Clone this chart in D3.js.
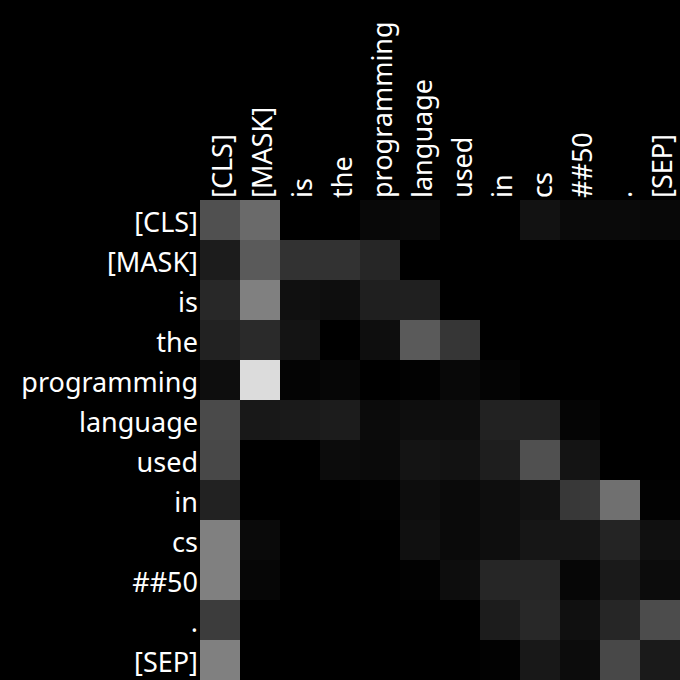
<!DOCTYPE html>
<html>
<head>
<meta charset="utf-8">
<script src="https://cdn.jsdelivr.net/npm/d3@7"></script>
<style>
  html, body { margin: 0; padding: 0; background: #000; }
  svg { display: block; }
</style>
</head>
<body>
<script>
const tokens = ["[CLS]", "[MASK]", "is", "the", "programming", "language", "used", "in", "cs", "##50", ".", "[SEP]"];

// attention weights (rows = query token, cols = key token)
const row_cls   = [0.314, 0.416, 0.000, 0.000, 0.031, 0.039, 0.000, 0.000, 0.071, 0.039, 0.039, 0.031];
const row_mask  = [0.110, 0.353, 0.196, 0.196, 0.149, 0.000, 0.000, 0.000, 0.000, 0.000, 0.000, 0.000];
const row_is    = [0.157, 0.502, 0.063, 0.055, 0.122, 0.125, 0.000, 0.000, 0.000, 0.000, 0.000, 0.000];
const row_the   = [0.133, 0.165, 0.078, 0.000, 0.055, 0.353, 0.212, 0.000, 0.000, 0.000, 0.000, 0.000];
const row_prog  = [0.055, 0.863, 0.016, 0.024, 0.000, 0.008, 0.031, 0.016, 0.000, 0.000, 0.000, 0.000];
const row_lang  = [0.290, 0.094, 0.102, 0.110, 0.043, 0.055, 0.055, 0.133, 0.133, 0.020, 0.000, 0.000];
const row_used  = [0.282, 0.000, 0.000, 0.047, 0.039, 0.078, 0.071, 0.118, 0.314, 0.078, 0.000, 0.000];
const row_in    = [0.133, 0.000, 0.000, 0.000, 0.008, 0.051, 0.039, 0.055, 0.071, 0.220, 0.439, 0.008];
const row_cs    = [0.502, 0.039, 0.000, 0.000, 0.000, 0.063, 0.039, 0.055, 0.086, 0.086, 0.141, 0.063];
const row_50    = [0.502, 0.024, 0.000, 0.000, 0.000, 0.008, 0.051, 0.149, 0.149, 0.024, 0.102, 0.047];
const row_dot   = [0.235, 0.000, 0.000, 0.000, 0.000, 0.000, 0.000, 0.110, 0.157, 0.063, 0.149, 0.298];
const row_sep   = [0.502, 0.000, 0.000, 0.000, 0.000, 0.000, 0.000, 0.008, 0.094, 0.047, 0.282, 0.102];

const matrix = [row_cls, row_mask, row_is, row_the, row_prog, row_lang, row_used, row_in, row_cs, row_50, row_dot, row_sep];

(function () {
  const W = 680, H = 680;
  const gridLeft = 200, gridTop = 200;

  const svg = d3.select("body").append("svg").attr("width", W).attr("height", H);
  svg.append("rect").attr("width", W).attr("height", H).attr("fill", "#000");

  const x = d3.scaleBand().domain(d3.range(tokens.length)).range([gridLeft, W]);
  const y = d3.scaleBand().domain(d3.range(tokens.length)).range([gridTop, H]);
  const color = d3.scaleLinear().domain([0, 1]).range(["#000000", "#ffffff"]);

  const cells = [];
  matrix.forEach((row, i) => row.forEach((v, j) => cells.push({ i, j, v })));

  svg.append("g").selectAll("rect").data(cells).join("rect")
    .attr("x", d => x(d.j))
    .attr("y", d => y(d.i))
    .attr("width", x.bandwidth() + 0.5)
    .attr("height", y.bandwidth() + 0.5)
    .attr("fill", d => color(d.v));

  const font = "'Noto Sans', 'Open Sans', sans-serif";
  const fs = "27px";

  // row labels
  svg.append("g").selectAll("text").data(tokens).join("text")
    .attr("x", gridLeft - 2)
    .attr("y", (d, i) => y(i) + y.bandwidth() / 2 + 1)
    .attr("text-anchor", "end")
    .attr("dominant-baseline", "central")
    .attr("fill", "#fff")
    .style("font-family", font)
    .style("font-size", fs)
    .text(d => d);

  // column labels (rotated)
  svg.append("g").selectAll("text").data(tokens).join("text")
    .attr("transform", (d, i) => `translate(${x(i) + x.bandwidth() / 2 + 1},${gridTop - 2}) rotate(-90)`)
    .attr("text-anchor", "start")
    .attr("dominant-baseline", "central")
    .attr("fill", "#fff")
    .style("font-family", font)
    .style("font-size", fs)
    .text(d => d);
})();
</script>
</body>
</html>
